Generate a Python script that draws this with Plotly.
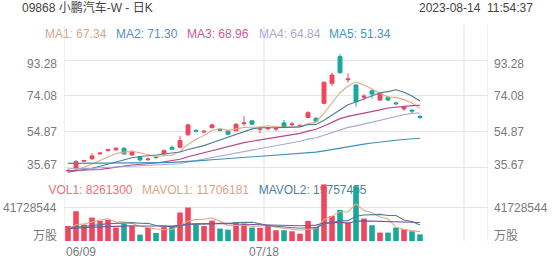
import plotly.graph_objects as go

# ---------------- data ----------------
dates_ticks = ["06/09", "07/18"]
tick_slots = [-0.5, 24.5]          # slot boundaries where date labels/grid sit
extra_vgrid = [49.5]

open_ = [33.8, 35.2, 38.9, 40.3, 42.9, 44.7, 45.1, 45.9, 42.3, 41.4, 39.8, 41.2, 42.9, 46.4, 46.4,
         53.1, 55.5, 54.6, 57.0, 56.0, 55.2, 55.3, 59.1, 60.6, 55.9, 56.4, 56.2, 59.5, 58.5, 57.7,
         62.4, 62.0, 70.0, 80.8, 95.1, 82.7, 79.9, 73.3, 76.8, 71.8, 73.3, 70.2, 67.0, 66.3, 63.0]
high = [34.5, 39.6, 39.6, 43.2, 43.6, 45.6, 46.4, 46.4, 45.0, 41.8, 41.0, 41.8, 45.2, 47.3, 52.5,
        59.3, 56.0, 55.8, 59.2, 56.4, 55.8, 59.3, 63.2, 61.0, 56.6, 57.3, 57.0, 61.1, 60.2, 58.8,
        65.8, 62.5, 81.8, 86.5, 96.5, 86.1, 80.2, 75.0, 77.3, 76.0, 73.8, 71.0, 68.7, 67.0, 63.8]
low = [33.0, 34.3, 38.5, 39.6, 42.5, 44.2, 44.6, 42.3, 41.8, 38.8, 38.9, 40.2, 42.3, 45.0, 46.0,
       52.6, 54.3, 53.8, 56.4, 55.0, 52.8, 55.0, 57.9, 58.4, 54.0, 55.5, 55.0, 57.0, 57.8, 57.2,
       62.0, 59.9, 69.5, 79.3, 85.8, 81.1, 68.2, 71.8, 72.7, 71.3, 71.3, 69.0, 66.1, 64.8, 61.7]
close = [34.0, 38.7, 39.3, 41.8, 43.3, 45.1, 45.9, 42.9, 44.1, 39.6, 40.1, 40.9, 44.6, 45.4, 50.0,
         58.4, 55.1, 55.0, 58.4, 55.5, 53.4, 58.8, 59.5, 58.8, 56.2, 56.7, 56.4, 57.4, 58.9, 58.1,
         65.0, 60.4, 81.3, 85.2, 86.5, 83.1, 70.9, 73.8, 75.0, 75.4, 71.8, 69.8, 68.2, 65.9, 62.4]

ma1 = [33.1, 34.3, 35.7, 37.5, 39.4, 41.6, 43.1, 43.8, 44.3, 43.5, 42.5, 41.5, 41.9, 42.1, 44.2,
       47.9, 50.7, 52.8, 55.4, 56.5, 55.5, 56.2, 57.1, 57.2, 57.3, 58.0, 57.5, 57.1, 57.1, 57.5,
       59.2, 60.0, 64.7, 70.0, 75.7, 79.3, 81.4, 79.9, 77.9, 75.6, 73.4, 73.2, 72.0, 70.2, 67.3]
ma2 = [33.0, 33.7, 34.3, 35.2, 36.2, 37.4, 38.7, 39.7, 40.8, 41.5, 42.1, 42.3, 42.8, 43.2, 43.9,
       45.2, 46.1, 47.3, 48.8, 50.3, 51.7, 53.5, 55.0, 56.3, 56.9, 56.7, 56.9, 57.1, 57.2, 57.4,
       58.6, 58.7, 60.9, 63.6, 66.6, 69.2, 70.7, 72.3, 73.9, 75.7, 76.3, 77.3, 76.0, 74.0, 71.3]
ma3 = [33.8, 33.9, 34.0, 34.2, 34.5, 35.1, 35.9, 36.4, 36.9, 37.2, 37.6, 38.0, 38.6, 39.2, 40.0,
       41.3, 42.4, 43.5, 44.8, 45.9, 46.9, 47.9, 48.9, 49.7, 50.4, 51.0, 51.5, 52.2, 53.0, 53.9,
       55.1, 56.1, 57.9, 59.9, 61.8, 63.0, 63.8, 64.7, 65.5, 66.5, 67.5, 68.0, 68.4, 68.8, 69.0]
ma4 = [34.9, 34.9, 35.0, 35.1, 35.4, 35.6, 35.9, 36.1, 36.4, 36.4, 36.5, 36.7, 36.9, 37.2, 37.6,
       38.5, 39.3, 40.0, 40.9, 41.6, 42.3, 43.1, 44.0, 44.9, 45.7, 46.5, 47.2, 48.0, 48.9, 49.7,
       50.8, 51.5, 52.9, 54.3, 55.8, 57.1, 57.9, 58.9, 59.9, 61.1, 62.2, 63.2, 63.9, 64.6, 64.8]
ma5 = [37.8, 37.8, 37.8, 37.8, 37.9, 37.9, 38.0, 38.0, 38.1, 38.1, 38.1, 38.1, 38.2, 38.3, 38.5,
       38.8, 39.1, 39.4, 39.7, 40.0, 40.2, 40.5, 40.9, 41.2, 41.5, 41.8, 42.1, 42.4, 42.7, 43.0,
       43.4, 43.8, 44.5, 45.3, 46.1, 46.9, 47.5, 48.1, 48.7, 49.3, 49.8, 50.2, 50.6, 51.0, 51.3]

vol_m = [18.7, 37.1, 20.5, 29.2, 25.0, 26.2, 16.7, 21.7, 18.7, 8.0, 16.7, 10.0, 18.0, 17.5, 35.5,
         41.7, 21.7, 18.7, 25.5, 15.5, 14.2, 23.0, 21.7, 16.7, 16.2, 18.7, 13.4, 13.4, 12.1, 9.2,
         25.0, 17.5, 70.5, 31.2, 38.7, 23.0, 68.3, 28.0, 19.6, 10.5, 10.5, 16.7, 14.6, 12.1, 8.26]
mavol1_m = [15.7, 20.2, 21.3, 24.1, 26.1, 27.6, 23.5, 23.8, 21.7, 18.3, 16.4, 15.0, 14.3, 14.0, 19.5,
            24.5, 26.9, 27.0, 28.6, 24.6, 19.1, 19.4, 20.0, 18.2, 18.4, 19.3, 17.3, 15.7, 14.8, 13.4,
            14.6, 15.4, 26.9, 30.7, 36.6, 36.2, 46.3, 37.8, 35.5, 29.9, 27.4, 17.1, 14.4, 12.9, 11.7]
mavol2_m = [15.4, 17.6, 18.1, 19.6, 20.6, 21.7, 21.8, 22.5, 22.9, 22.2, 22.0, 19.3, 19.0, 17.9, 18.9,
            20.5, 21.0, 20.7, 21.3, 22.1, 21.8, 23.1, 23.5, 23.4, 21.5, 19.2, 18.4, 17.8, 16.5, 15.9,
            16.9, 16.4, 21.3, 22.7, 25.0, 25.4, 30.9, 32.4, 33.1, 33.2, 31.8, 31.7, 26.1, 24.2, 19.8]
mavol3_m = [15.2, 16.3, 16.6, 17.3, 17.8, 18.3, 18.4, 18.8, 18.9, 18.6, 18.7, 18.4, 18.6, 18.7, 19.7,
            21.1, 21.4, 21.6, 22.1, 22.1, 21.9, 21.2, 21.3, 20.6, 20.2, 19.8, 19.7, 19.2, 18.9, 19.0,
            19.4, 19.8, 22.4, 23.1, 23.2, 22.3, 24.6, 25.1, 24.8, 24.5, 24.4, 24.0, 23.7, 23.5, 23.1]

price_ticks = [35.67, 54.87, 74.08, 93.28]
price_tick_text = ["35.67", "54.87", "74.08", "93.28"]
vol_ticks = [0, 41728544]
vol_tick_text = ["万股", "41728544"]

title_text = "09868 小鹏汽车-W - 日K"
time_text = "2023-08-14  11:54:37"
ma_labels = ["MA1: 67.34", "MA2: 71.30", "MA3: 68.96", "MA4: 64.84", "MA5: 51.34"]
vol_labels = ["VOL1: 8261300", "MAVOL1: 11706181", "MAVOL2: 19757455"]

# ---------------- styling ----------------
W, H = 552, 265
ML, MR, MT, MB = 64, 64, 0, 24
PH = H - MT - MB
PW = W - ML - MR
FONT = "Liberation Sans, Arial, Noto Sans CJK SC, sans-serif"
RED = "#f0465e"
TEAL = "#19a99b"
GRID = "#e6e6e6"
LABEL = "#7a7a7a"
ma_line_colors = ["#e3a98b", "#4e7e94", "#b8468a", "#a6a9d6", "#3f8fbb"]
ma_text_colors = ["#d8a68c", "#5d8db4", "#c65b98", "#a5a8d8", "#4495be"]
vol_line_colors = ["#e3a98b", "#4e7e94", "#7b55a0"]
vol_text_colors = ["#ee6f80", "#d8a68c", "#4f7fa0"]

def py(p):
    return 1 - (p - MT) / PH

def px(p):
    return (p - ML) / PW

n = len(close)
idx = list(range(n))
X_RANGE = [-0.5, 52.5]
PX_PER_UNIT = 1.8625
P_TOP = 93.28 + (60 - 25) / PX_PER_UNIT
P_BOT = 93.28 - (175 - 60) / PX_PER_UNIT

fig = go.Figure()

# price pane (x / y)
fig.add_trace(go.Candlestick(
    x=idx, open=open_, high=high, low=low, close=close,
    increasing=dict(line=dict(color=RED, width=1), fillcolor=RED),
    decreasing=dict(line=dict(color=TEAL, width=1), fillcolor=TEAL),
    whiskerwidth=0, showlegend=False, hoverinfo="skip", xaxis="x", yaxis="y"))

for ma, col in zip([ma1, ma2, ma3, ma4, ma5], ma_line_colors):
    fig.add_trace(go.Scatter(x=idx, y=ma, mode="lines", line=dict(color=col, width=1.1),
                             showlegend=False, hoverinfo="skip", xaxis="x", yaxis="y"))

# volume legend text in its own strip (x2 / y2, pixel-scaled x), painted below the volume bars
vol_label_right_px = [132.5, 249.0, 366.5]
fig.add_trace(go.Scatter(
    x=vol_label_right_px, y=[0.5] * 3,
    mode="text", text=vol_labels, textposition="middle left",
    textfont=dict(family=FONT, size=12, color=vol_text_colors),
    cliponaxis=False, showlegend=False, hoverinfo="skip", xaxis="x2", yaxis="y2"))

# volume pane (x3 / y3)
vol = [v * 1e6 for v in vol_m]
bar_colors = [RED if c >= o else TEAL for o, c in zip(open_, close)]
fig.add_trace(go.Bar(x=idx, y=vol, marker=dict(color=bar_colors, line=dict(width=0)), width=0.7,
                     showlegend=False, hoverinfo="skip", xaxis="x3", yaxis="y3"))
for mv, col in zip([mavol1_m, mavol2_m, mavol3_m], vol_line_colors):
    fig.add_trace(go.Scatter(x=idx, y=[v * 1e6 for v in mv], mode="lines",
                             line=dict(color=col, width=1.1),
                             showlegend=False, hoverinfo="skip", xaxis="x3", yaxis="y3"))

ann = []
ann.append(dict(text=title_text, x=px(20), y=py(7.5), xanchor="left", yanchor="middle",
                font=dict(color="#444", size=12)))
ann.append(dict(text=time_text.replace("  ", " \u00a0"), x=px(535), y=py(7.5), xanchor="right",
                yanchor="middle", font=dict(color="#444", size=12)))
ma_label_px = [43, 114, 185, 257, 327]
for t, c, p in zip(ma_labels, ma_text_colors, ma_label_px):
    ann.append(dict(text=t, x=px(p), y=py(34.5), xanchor="left", yanchor="middle",
                    font=dict(color=c, size=12)))
for v, t in zip(price_ticks, price_tick_text):
    shift = 0
    if v == max(price_ticks):
        shift = -4
    elif v == min(price_ticks):
        shift = 2
    for xx, anc, xs in [(0, "right", -5), (1, "left", 4)]:
        ann.append(dict(text=t, x=xx, xref="paper", y=v, yref="y", xanchor=anc, yanchor="middle",
                        xshift=xs, yshift=shift, font=dict(color=LABEL, size=12)))
for v, t in zip(vol_ticks, vol_tick_text):
    shift = 5 if v == 0 else 0
    for xx, anc, xs in [(0, "right", -5), (1, "left", 4)]:
        ann.append(dict(text=t, x=xx, xref="paper", y=v, yref="y3", xanchor=anc, yanchor="middle",
                        xshift=xs, yshift=shift, font=dict(color=LABEL, size=12)))
for s, t in zip(tick_slots, dates_ticks):
    ann.append(dict(text=t, x=s, xref="x", y=py(251.7), yref="paper",
                    xanchor="left" if s == tick_slots[0] else "center", yanchor="middle",
                    font=dict(color=LABEL, size=12)))
for a in ann:
    a.setdefault("xref", "paper")
    a.setdefault("yref", "paper")
    a["showarrow"] = False

shapes = []
for s in tick_slots + extra_vgrid + [X_RANGE[1]]:
    shapes.append(dict(type="line", xref="x", yref="paper", x0=s, x1=s, y0=0, y1=py(25),
                       line=dict(color="#e0e0e0", width=1), layer="below"))

hidden_x = dict(domain=[0, 1], showticklabels=False, showgrid=False,
                zeroline=False, showline=False, fixedrange=True)
fig.update_layout(
    width=W, height=H, margin=dict(l=ML, r=MR, t=MT, b=MB),
    paper_bgcolor="white", plot_bgcolor="rgba(0,0,0,0)",
    font=dict(family=FONT, size=12, color=LABEL),
    showlegend=False, annotations=ann, shapes=shapes,
    xaxis=dict(hidden_x, range=X_RANGE, anchor="y", rangeslider=dict(visible=False)),
    xaxis2=dict(hidden_x, range=[ML, W - MR], anchor="y2"),
    xaxis3=dict(hidden_x, range=X_RANGE, anchor="y3"),
    yaxis=dict(domain=[py(175), py(25)], range=[P_BOT, P_TOP], tickvals=price_ticks,
               showticklabels=False, gridcolor=GRID, gridwidth=1, zeroline=False, showline=False,
               ticks="", fixedrange=True),
    yaxis2=dict(domain=[py(198), py(184)], range=[0, 1], showticklabels=False, showgrid=False,
                zeroline=False, showline=False, fixedrange=True),
    yaxis3=dict(domain=[0, py(174)], range=[0, 2 * vol_ticks[1]], tickvals=vol_ticks,
                showticklabels=False, gridcolor=GRID, gridwidth=1, zeroline=False, showline=False,
                ticks="", fixedrange=True),
)

fig.write_html("out.html", include_plotlyjs=True, config={"displayModeBar": False})
